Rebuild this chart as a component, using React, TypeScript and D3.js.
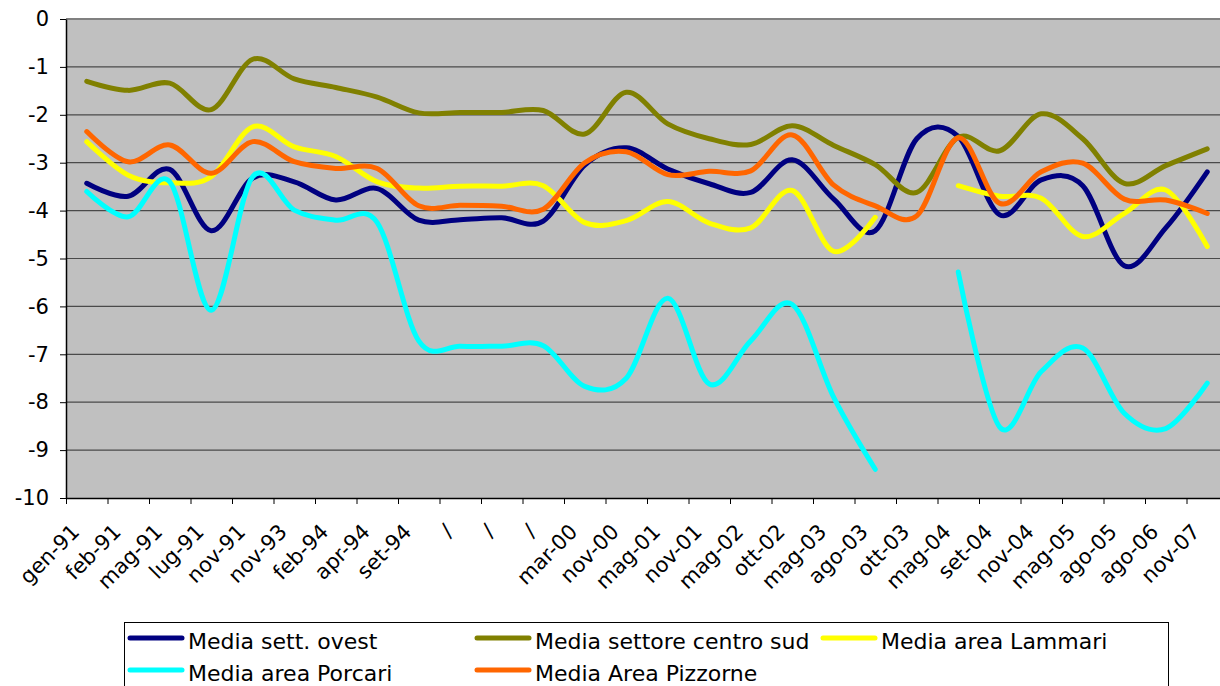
import React, { useEffect, useRef } from 'react';
import * as d3 from 'd3';

// category labels (x axis)
const categories = ['gen-91', 'feb-91', 'mag-91', 'lug-91', 'nov-91', 'nov-93', 'feb-94', 'apr-94', 'set-94', '/', '/', '/',
  'mar-00', 'nov-00', 'mag-01', 'nov-01', 'mag-02', 'ott-02', 'mag-03', 'ago-03', 'ott-03', 'mag-04', 'set-04', 'nov-04',
  'mag-05', 'ago-05', 'ago-06', 'nov-07'];

const yTicks = [0, -1, -2, -3, -4, -5, -6, -7, -8, -9, -10];

// series values, one per category (null = no data)
const settOvest = [-3.43, -3.70, -3.14, -4.42, -3.32, -3.40, -3.78, -3.54, -4.20, -4.19, -4.15, -4.22, -3.05, -2.69,
  -3.13, -3.44, -3.62, -2.94, -3.76, -4.42, -2.50, -2.45, -4.09, -3.36, -3.48, -5.15, -4.36, -3.19];
const centroSud = [-1.30, -1.49, -1.34, -1.89, -0.84, -1.25, -1.43, -1.63, -1.96, -1.95, -1.95, -1.91, -2.40, -1.53,
  -2.19, -2.50, -2.62, -2.23, -2.64, -3.04, -3.62, -2.47, -2.75, -1.98, -2.50, -3.43, -3.06, -2.71];
const lammari = [-2.56, -3.26, -3.42, -3.29, -2.25, -2.67, -2.87, -3.40, -3.53, -3.49, -3.49, -3.48, -4.25, -4.21,
  -3.81, -4.26, -4.36, -3.58, -4.85, -4.14, null, -3.48, -3.70, -3.74, -4.54, -4.06, -3.57, -4.75];
const porcari = [-3.60, -4.13, -3.40, -6.08, -3.29, -3.99, -4.20, -4.25, -6.72, -6.83, -6.83, -6.82, -7.67, -7.50,
  -5.83, -7.62, -6.72, -5.96, -7.90, -9.40, null, -5.28, -8.52, -7.36, -6.87, -8.23, -8.55, -7.60];
const pizzorne = [-2.35, -2.98, -2.63, -3.22, -2.56, -2.98, -3.12, -3.12, -3.90, -3.89, -3.91, -3.97, -3.00, -2.77,
  -3.25, -3.18, -3.17, -2.42, -3.47, -3.90, -4.11, -2.48, -3.85, -3.19, -3.01, -3.76, -3.78, -4.06];

const series = [
  { name: 'Media sett. ovest', color: '#000080', values: settOvest },
  { name: 'Media settore centro sud', color: '#808000', values: centroSud },
  { name: 'Media area Lammari', color: '#FFFF00', values: lammari },
  { name: 'Media area Porcari', color: '#00FFFF', values: porcari },
  { name: 'Media Area Pizzorne', color: '#FF6600', values: pizzorne },
];

export default function App() {
  const svgRef = useRef<SVGSVGElement>(null);

  useEffect(() => {
    const w = 1220;
    const h = 686;
    const left = 66, right = 1228, top = 19, bottom = 498;
    const font = 'DejaVu Sans, Verdana, sans-serif';

    const svg = d3.select(svgRef.current).attr('width', w).attr('height', h);
    svg.selectAll('*').remove();

    const x = d3.scaleBand<number>().domain(d3.range(categories.length)).range([left, right]);
    const xEdge = d3.scaleLinear().domain([0, categories.length]).range([left, right]);
    const y = d3.scaleLinear().domain([-10, 0]).range([bottom, top]);
    const cx = (i: number) => (x(i) as number) + x.bandwidth() / 2;

    // plot background
    svg.append('rect')
      .attr('x', left).attr('y', top)
      .attr('width', right - left).attr('height', bottom - top)
      .attr('fill', '#C0C0C0');

    // gridlines
    svg.append('g')
      .selectAll('line')
      .data(yTicks.filter(t => t !== -10))
      .join('line')
      .attr('x1', left).attr('x2', right)
      .attr('y1', d => y(d)).attr('y2', d => y(d))
      .attr('stroke', d => (d === 0 ? '#808080' : '#4a4a4a'))
      .attr('stroke-width', d => (d === 0 ? 2 : 1.2));

    // y axis
    const yAxis = d3.axisLeft(y).tickValues(yTicks).tickSize(6).tickSizeOuter(0).tickPadding(11)
      .tickFormat(d => String(d));
    const gy = svg.append('g').attr('transform', `translate(${left},0)`).call(yAxis);
    gy.select('.domain').attr('stroke', '#000').attr('stroke-width', 1.5);
    gy.selectAll('.tick line').attr('stroke', '#000');
    gy.selectAll('.tick text')
      .attr('font-family', font).attr('font-size', 21).attr('fill', '#000');

    // x axis (ticks between categories)
    const xAxis = d3.axisBottom(xEdge).tickValues(d3.range(categories.length + 1)).tickSize(6)
      .tickSizeOuter(0).tickFormat(() => '');
    const gx = svg.append('g').attr('transform', `translate(0,${bottom})`).call(xAxis);
    gx.select('.domain').attr('stroke', '#000').attr('stroke-width', 1.5);
    gx.selectAll('.tick line').attr('stroke', '#000');

    svg.append('g')
      .selectAll('text')
      .data(categories)
      .join('text')
      .attr('transform', (d, i) => `translate(${cx(i) - 6},${bottom + 35}) rotate(-45)`)
      .attr('text-anchor', 'end')
      .attr('font-family', font)
      .attr('font-size', 21)
      .attr('fill', '#000')
      .text(d => d);

    // smoothed lines, like Excel
    const line = d3.line<number | null>()
      .defined(d => d !== null)
      .x((d, i) => cx(i))
      .y(d => y(d as number))
      .curve(d3.curveCardinal.tension(0));

    svg.append('g')
      .selectAll('path')
      .data(series)
      .join('path')
      .attr('d', s => line(s.values))
      .attr('fill', 'none')
      .attr('stroke', s => s.color)
      .attr('stroke-width', 5)
      .attr('stroke-linejoin', 'round')
      .attr('stroke-linecap', 'round');

    // legend
    const legend = svg.append('g');
    legend.append('rect')
      .attr('x', 124.5).attr('y', 622.5)
      .attr('width', 1044).attr('height', 90)
      .attr('fill', '#fff').attr('stroke', '#000').attr('stroke-width', 1);
    const cols = [130, 477, 823];
    const rows = [638, 670];
    const item = legend.selectAll('g.item')
      .data(series)
      .join('g')
      .attr('class', 'item')
      .attr('transform', (d, i) => `translate(${cols[i % 3]},${rows[Math.floor(i / 3)]})`);
    item.append('line')
      .attr('x1', 0).attr('x2', 52).attr('y1', 0).attr('y2', 0)
      .attr('stroke', d => d.color).attr('stroke-width', 5).attr('stroke-linecap', 'round');
    item.append('text')
      .attr('x', 58).attr('y', 11)
      .attr('font-family', font).attr('font-size', 22).attr('fill', '#000')
      .text(d => d.name);
  }, []);

  return (
    <div style={{ position: 'absolute', left: 0, top: 0 }}>
      <svg ref={svgRef} style={{ display: 'block' }}></svg>
    </div>
  );
}
